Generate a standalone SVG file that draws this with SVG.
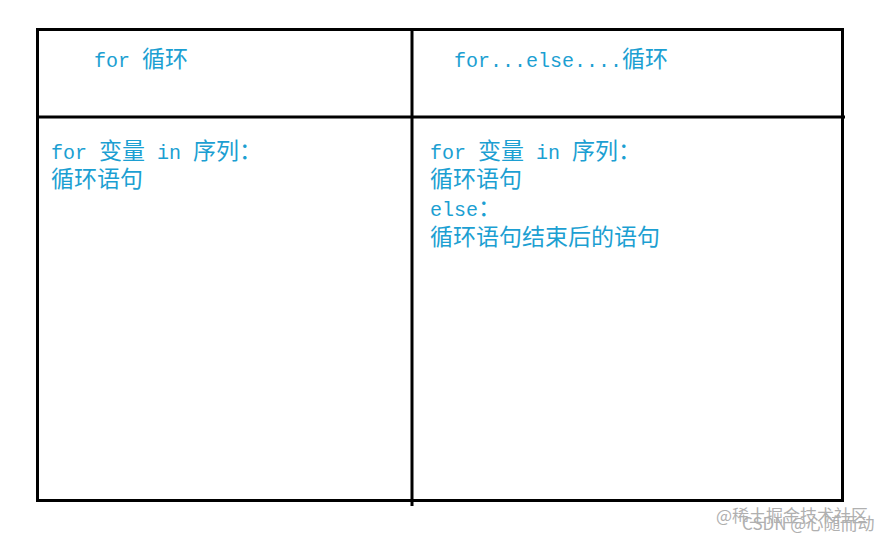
<svg xmlns="http://www.w3.org/2000/svg" width="894" height="543" viewBox="0 0 894 543">
<style>
.t{font-family:"Liberation Mono","Noto Sans CJK SC",monospace;font-size:20px;fill:#1c9fd2}
.c{font-size:23px}
.l{stroke:#000;stroke-width:3;fill:none}
.w{font-family:"Noto Sans CJK SC",sans-serif;font-size:17px;fill:#b0b0b0}
</style>
<rect width="894" height="543" fill="#fff"/>
<g id="table">
<rect class="l" x="37.5" y="29.5" width="805" height="471"/>
<line class="l" x1="412" y1="29" x2="412" y2="506"/>
<line class="l" x1="37" y1="117" x2="845" y2="117"/>
</g>
<g id="left">
<text class="t" x="94" y="67">for <tspan class="c">循环</tspan></text>
<text class="t" x="51" y="159">for <tspan class="c">变量</tspan> in <tspan class="c">序列：</tspan></text>
<text class="t" x="51" y="187"><tspan class="c">循环语句</tspan></text>
</g>
<g id="right">
<text class="t" x="454" y="67">for...else....<tspan class="c">循环</tspan></text>
<text class="t" x="430" y="159">for <tspan class="c">变量</tspan> in <tspan class="c">序列：</tspan></text>
<text class="t" x="430" y="187"><tspan class="c">循环语句</tspan></text>
<text class="t" x="430" y="216">else<tspan class="c">：</tspan></text>
<text class="t" x="430" y="245"><tspan class="c">循环语句结束后的语句</tspan></text>
</g>
<g id="watermark">
<text class="w" x="716" y="522">@稀土掘金技术社区</text>
<text class="w" x="742" y="530">CSDN @心随而动</text>
</g>
</svg>
